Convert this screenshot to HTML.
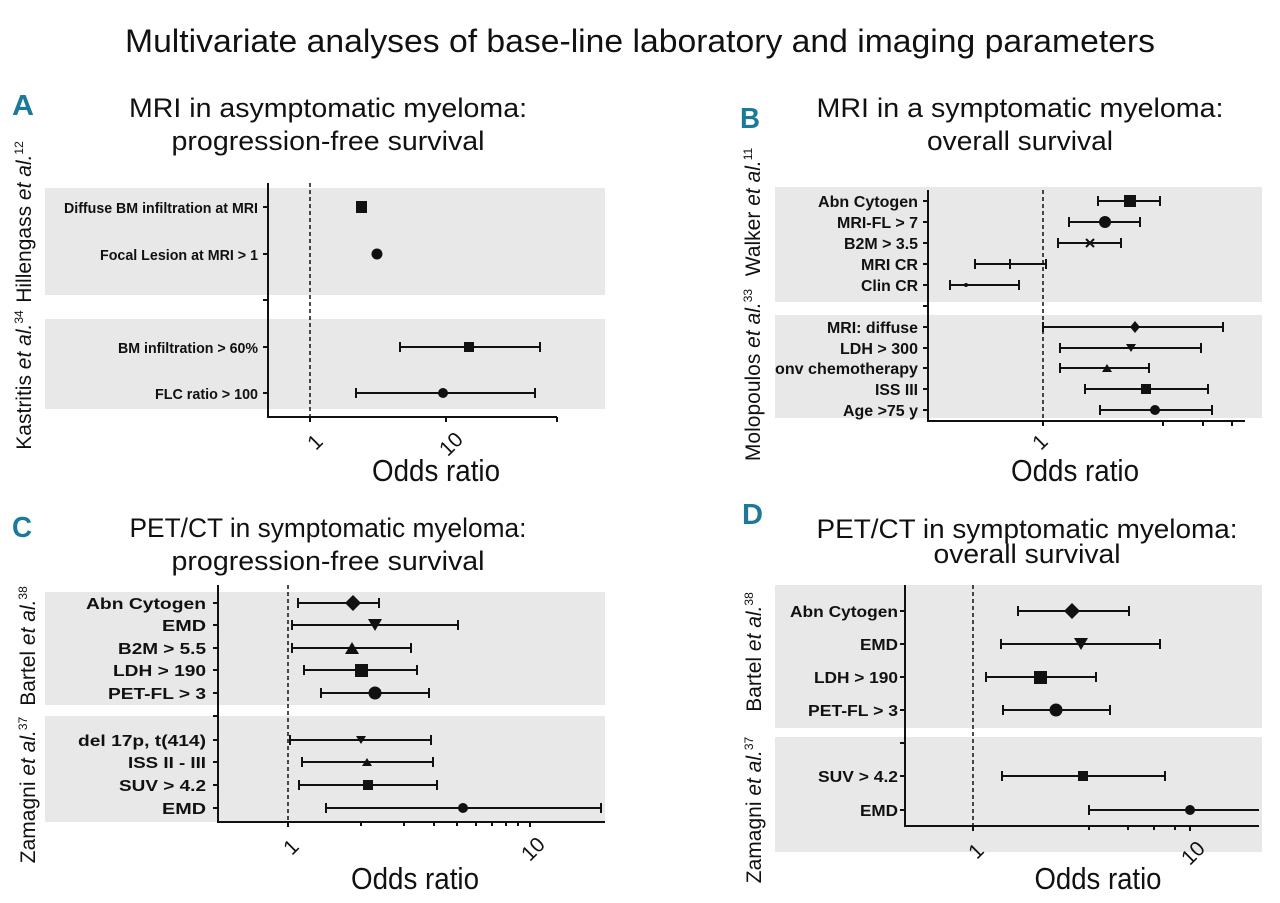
<!DOCTYPE html>
<html><head><meta charset="utf-8"><style>
body{margin:0;background:#fff}
svg{display:block}
text{font-family:"Liberation Sans",sans-serif;fill:#111}
.t{font-size:27px}
.l{font-weight:bold;text-anchor:end}
.la{font-size:15px}
.lb{font-size:16px}
.lc{font-size:16px}
.ld{font-size:16px}
.g{font-size:21px}
.o{font-size:31px}
.k{font-size:21px}
.P{font-size:29px;font-weight:bold;fill:#1b7a9a}
.e{stroke:#111;stroke-width:2;fill:none}
.a{stroke:#111;stroke-width:2;fill:none}
.d{stroke:#111;stroke-width:1.5;stroke-dasharray:4,3}
</style></head><body>
<svg width="1280" height="903" viewBox="0 0 1280 903">
<text x="640" y="52" class="t" text-anchor="middle" style="font-size:32px" textLength="1030" lengthAdjust="spacingAndGlyphs">Multivariate analyses of base-line laboratory and imaging parameters</text>

<!-- Panel A -->
<text x="12" y="115" class="P" textLength="22" lengthAdjust="spacingAndGlyphs">A</text>
<text x="328" y="117" class="t" text-anchor="middle" textLength="398" lengthAdjust="spacingAndGlyphs">MRI in asymptomatic myeloma:</text>
<text x="328" y="150" class="t" text-anchor="middle" textLength="313" lengthAdjust="spacingAndGlyphs">progression-free survival</text>
<rect x="45" y="188" width="560" height="107" fill="#e8e8e8"/>
<rect x="45" y="319" width="560" height="90" fill="#e8e8e8"/>
<text transform="translate(31,222) rotate(-90)" class="g" text-anchor="middle">Hillengass <tspan font-style="italic">et al.</tspan><tspan font-size="12" dy="-8">12</tspan></text>
<text transform="translate(31,380) rotate(-90)" class="g" text-anchor="middle">Kastritis <tspan font-style="italic">et al.</tspan><tspan font-size="12" dy="-8">34</tspan></text>
<path class="a" d="M268 183V417H557"/>
<path class="a" d="M263 207h5M263 254h5M263 300h5M263 347h5M263 393h5M310 417v5M446 417v5M557 417v5"/>
<line class="d" x1="310" y1="183" x2="310" y2="417"/>
<text x="258" y="213" class="l la" textLength="194" lengthAdjust="spacingAndGlyphs">Diffuse BM infiltration at MRI</text>
<text x="258" y="260" class="l la" textLength="158" lengthAdjust="spacingAndGlyphs">Focal Lesion at MRI &gt; 1</text>
<text x="258" y="353" class="l la" textLength="140" lengthAdjust="spacingAndGlyphs">BM infiltration &gt; 60%</text>
<text x="258" y="399" class="l la" textLength="103" lengthAdjust="spacingAndGlyphs">FLC ratio &gt; 100</text>
<rect x="356" y="201" width="11" height="12" fill="#111"/>
<circle cx="377" cy="254" r="5.5" fill="#111"/>
<path class="e" d="M400 347H540M400 342v10M540 342v10"/><rect x="464" y="342" width="10" height="10" fill="#111"/>
<path class="e" d="M356 393H535M356 388v10M535 388v10"/><circle cx="443" cy="393" r="5" fill="#111"/>
<text transform="translate(320,447) rotate(-45)" class="k" text-anchor="middle">1</text>
<text transform="translate(456,449) rotate(-45)" class="k" text-anchor="middle">10</text>
<text x="436" y="481" class="o" text-anchor="middle" textLength="128" lengthAdjust="spacingAndGlyphs">Odds ratio</text>

<!-- Panel B -->
<text x="740" y="128" class="P" textLength="20" lengthAdjust="spacingAndGlyphs">B</text>
<text x="1020" y="117" class="t" text-anchor="middle" textLength="407" lengthAdjust="spacingAndGlyphs">MRI in a symptomatic myeloma:</text>
<text x="1020" y="150" class="t" text-anchor="middle" textLength="186" lengthAdjust="spacingAndGlyphs">overall survival</text>
<rect x="775" y="187" width="487" height="115" fill="#e8e8e8"/>
<rect x="775" y="315" width="487" height="103" fill="#e8e8e8"/>
<text transform="translate(760,212) rotate(-90)" class="g" text-anchor="middle">Walker <tspan font-style="italic">et al.</tspan><tspan font-size="12" dy="-8">11</tspan></text>
<text transform="translate(760,375) rotate(-90)" class="g" text-anchor="middle">Molopoulos <tspan font-style="italic">et al.</tspan><tspan font-size="12" dy="-8">33</tspan></text>
<path class="a" d="M928 190V421H1245"/>
<path class="a" d="M923 201h5M923 222h5M923 243h5M923 264h5M923 285h5M923 306h5M923 327h5M923 348h5M923 368h5M923 389h5M923 410h5M1043 421v5M1163 421v5M1203 421v5M1232 421v5"/>
<line class="d" x1="1043" y1="190" x2="1043" y2="421"/>
<text x="918" y="207" class="l lb" textLength="100" lengthAdjust="spacingAndGlyphs">Abn Cytogen</text>
<text x="918" y="228" class="l lb" textLength="81" lengthAdjust="spacingAndGlyphs">MRI-FL &gt; 7</text>
<text x="918" y="249" class="l lb" textLength="74" lengthAdjust="spacingAndGlyphs">B2M &gt; 3.5</text>
<text x="918" y="270" class="l lb" textLength="57" lengthAdjust="spacingAndGlyphs">MRI CR</text>
<text x="918" y="291" class="l lb" textLength="57" lengthAdjust="spacingAndGlyphs">Clin CR</text>
<text x="918" y="333" class="l lb" textLength="91" lengthAdjust="spacingAndGlyphs">MRI: diffuse</text>
<text x="918" y="354" class="l lb" textLength="78" lengthAdjust="spacingAndGlyphs">LDH &gt; 300</text>
<text x="918" y="374" class="l lb" textLength="143" lengthAdjust="spacingAndGlyphs">onv chemotherapy</text>
<text x="918" y="395" class="l lb" textLength="43" lengthAdjust="spacingAndGlyphs">ISS III</text>
<text x="918" y="416" class="l lb" textLength="75" lengthAdjust="spacingAndGlyphs">Age &gt;75 y</text>
<path class="e" d="M1098 201H1160M1098 196v10M1160 196v10"/><rect x="1124" y="195" width="12" height="12" fill="#111"/>
<path class="e" d="M1069 222H1140M1069 217v10M1140 217v10"/><circle cx="1105" cy="222" r="6" fill="#111"/>
<path class="e" d="M1058 243H1121M1058 238v10M1121 238v10M1086 239l8 8M1094 239l-8 8"/>
<path class="e" d="M975 264H1046M975 259v10M1046 259v10M1010 259v10"/>
<path class="e" d="M950 285H1019M950 280v10M1019 280v10"/><circle cx="966" cy="285" r="2" fill="#111"/>
<path class="e" d="M1043 327H1223M1043 322v10M1223 322v10"/><path d="M1135 321l5 6-5 6-5-6z" fill="#111"/>
<path class="e" d="M1060 348H1201M1060 343v10M1201 343v10"/><path d="M1126 344h10l-5 8z" fill="#111"/>
<path class="e" d="M1060 368H1149M1060 363v10M1149 363v10"/><path d="M1102 372h10l-5-8z" fill="#111"/>
<path class="e" d="M1085 389H1208M1085 384v10M1208 384v10"/><rect x="1141" y="384" width="10" height="10" fill="#111"/>
<path class="e" d="M1100 410H1212M1100 405v10M1212 405v10"/><circle cx="1155" cy="410" r="5" fill="#111"/>
<text transform="translate(1045,447) rotate(-45)" class="k" text-anchor="middle">1</text>
<text x="1075" y="481" class="o" text-anchor="middle" textLength="128" lengthAdjust="spacingAndGlyphs">Odds ratio</text>

<!-- Panel C -->
<text x="12" y="537" class="P" textLength="20" lengthAdjust="spacingAndGlyphs">C</text>
<text x="328" y="537" class="t" text-anchor="middle" textLength="397" lengthAdjust="spacingAndGlyphs">PET/CT in symptomatic myeloma:</text>
<text x="328" y="570" class="t" text-anchor="middle" textLength="313" lengthAdjust="spacingAndGlyphs">progression-free survival</text>
<rect x="45" y="592" width="560" height="113" fill="#e8e8e8"/>
<rect x="45" y="716" width="560" height="106" fill="#e8e8e8"/>
<text transform="translate(35,646) rotate(-90)" class="g" text-anchor="middle">Bartel <tspan font-style="italic">et al.</tspan><tspan font-size="12" dy="-8">38</tspan></text>
<text transform="translate(35,790) rotate(-90)" class="g" text-anchor="middle">Zamagni <tspan font-style="italic">et al.</tspan><tspan font-size="12" dy="-8">37</tspan></text>
<path class="a" d="M218 585V822H605"/>
<path class="a" d="M213 603h5M213 625h5M213 648h5M213 670h5M213 693h5M213 716h5M213 740h5M213 762h5M213 785h5M213 808h5M288 822v5M530 822v5M361 822v4M404 822v4M434 822v4M457 822v4M476 822v4M492 822v4M506 822v4M518 822v4"/>
<line class="d" x1="288" y1="585" x2="288" y2="822"/>
<text x="206" y="609" class="l lc" textLength="120" lengthAdjust="spacingAndGlyphs">Abn Cytogen</text>
<text x="206" y="631" class="l lc" textLength="44" lengthAdjust="spacingAndGlyphs">EMD</text>
<text x="206" y="654" class="l lc" textLength="88" lengthAdjust="spacingAndGlyphs">B2M &gt; 5.5</text>
<text x="206" y="676" class="l lc" textLength="93" lengthAdjust="spacingAndGlyphs">LDH &gt; 190</text>
<text x="206" y="699" class="l lc" textLength="98" lengthAdjust="spacingAndGlyphs">PET-FL &gt; 3</text>
<text x="206" y="746" class="l lc" textLength="128" lengthAdjust="spacingAndGlyphs">del 17p, t(414)</text>
<text x="206" y="768" class="l lc" textLength="78" lengthAdjust="spacingAndGlyphs">ISS II - III</text>
<text x="206" y="791" class="l lc" textLength="87" lengthAdjust="spacingAndGlyphs">SUV &gt; 4.2</text>
<text x="206" y="814" class="l lc" textLength="44" lengthAdjust="spacingAndGlyphs">EMD</text>
<path class="e" d="M298 603H379M298 598v10M379 598v10"/><path d="M353 595l8 8-8 8-8-8z" fill="#111"/>
<path class="e" d="M292 625H458M292 620v10M458 620v10"/><path d="M368 619h14l-7 12z" fill="#111"/>
<path class="e" d="M292 648H411M292 643v10M411 643v10"/><path d="M345 654h14l-7-12z" fill="#111"/>
<path class="e" d="M304 670H417M304 665v10M417 665v10"/><rect x="355" y="664" width="13" height="13" fill="#111"/>
<path class="e" d="M321 693H429M321 688v10M429 688v10"/><circle cx="375" cy="693" r="6.5" fill="#111"/>
<path class="e" d="M290 740H431M290 735v10M431 735v10"/><path d="M356 736h10l-5 8z" fill="#111"/>
<path class="e" d="M302 762H433M302 757v10M433 757v10"/><path d="M362 766h10l-5-8z" fill="#111"/>
<path class="e" d="M299 785H437M299 780v10M437 780v10"/><rect x="363" y="780" width="10" height="10" fill="#111"/>
<path class="e" d="M326 808H601M326 803v10M601 803v10"/><circle cx="463" cy="808" r="5" fill="#111"/>
<text transform="translate(296,852) rotate(-45)" class="k" text-anchor="middle">1</text>
<text transform="translate(538,854) rotate(-45)" class="k" text-anchor="middle">10</text>
<text x="415" y="889" class="o" text-anchor="middle" textLength="128" lengthAdjust="spacingAndGlyphs">Odds ratio</text>

<!-- Panel D -->
<text x="742" y="524" class="P" textLength="21" lengthAdjust="spacingAndGlyphs">D</text>
<text x="1027" y="538" class="t" text-anchor="middle" textLength="421" lengthAdjust="spacingAndGlyphs">PET/CT in symptomatic myeloma:</text>
<text x="1027" y="563" class="t" text-anchor="middle" textLength="187" lengthAdjust="spacingAndGlyphs">overall survival</text>
<rect x="775" y="585" width="487" height="143" fill="#e8e8e8"/>
<rect x="775" y="737" width="487" height="115" fill="#e8e8e8"/>
<text transform="translate(761,652) rotate(-90)" class="g" text-anchor="middle">Bartel <tspan font-style="italic">et al.</tspan><tspan font-size="12" dy="-8">38</tspan></text>
<text transform="translate(761,810) rotate(-90)" class="g" text-anchor="middle">Zamagni <tspan font-style="italic">et al.</tspan><tspan font-size="12" dy="-8">37</tspan></text>
<path class="a" d="M905 585V826H1259"/>
<path class="a" d="M900 611h5M900 644h5M900 677h5M900 710h5M900 743h5M900 776h5M900 810h5M973 826v5M1190 826v5M1089 826v4M1128 826v4M1154 826v4M1175 826v4"/>
<line class="d" x1="973" y1="585" x2="973" y2="826"/>
<text x="898" y="617" class="l ld" textLength="108" lengthAdjust="spacingAndGlyphs">Abn Cytogen</text>
<text x="898" y="650" class="l ld" textLength="38" lengthAdjust="spacingAndGlyphs">EMD</text>
<text x="898" y="683" class="l ld" textLength="84" lengthAdjust="spacingAndGlyphs">LDH &gt; 190</text>
<text x="898" y="716" class="l ld" textLength="90" lengthAdjust="spacingAndGlyphs">PET-FL &gt; 3</text>
<text x="898" y="782" class="l ld" textLength="80" lengthAdjust="spacingAndGlyphs">SUV &gt; 4.2</text>
<text x="898" y="816" class="l ld" textLength="38" lengthAdjust="spacingAndGlyphs">EMD</text>
<path class="e" d="M1018 611H1129M1018 606v10M1129 606v10"/><path d="M1072 603l8 8-8 8-8-8z" fill="#111"/>
<path class="e" d="M1001 644H1160M1001 639v10M1160 639v10"/><path d="M1074 638h14l-7 12z" fill="#111"/>
<path class="e" d="M986 677H1096M986 672v10M1096 672v10"/><rect x="1034" y="671" width="13" height="13" fill="#111"/>
<path class="e" d="M1003 710H1110M1003 705v10M1110 705v10"/><circle cx="1056" cy="710" r="6.5" fill="#111"/>
<path class="e" d="M1002 776H1165M1002 771v10M1165 771v10"/><rect x="1078" y="771" width="10" height="10" fill="#111"/>
<path class="e" d="M1089 810H1259M1089 805v10"/><circle cx="1190" cy="810" r="5" fill="#111"/>
<text transform="translate(981,856) rotate(-45)" class="k" text-anchor="middle">1</text>
<text transform="translate(1198,858) rotate(-45)" class="k" text-anchor="middle">10</text>
<text x="1098" y="889" class="o" text-anchor="middle" textLength="127" lengthAdjust="spacingAndGlyphs">Odds ratio</text>
</svg>
</body></html>
